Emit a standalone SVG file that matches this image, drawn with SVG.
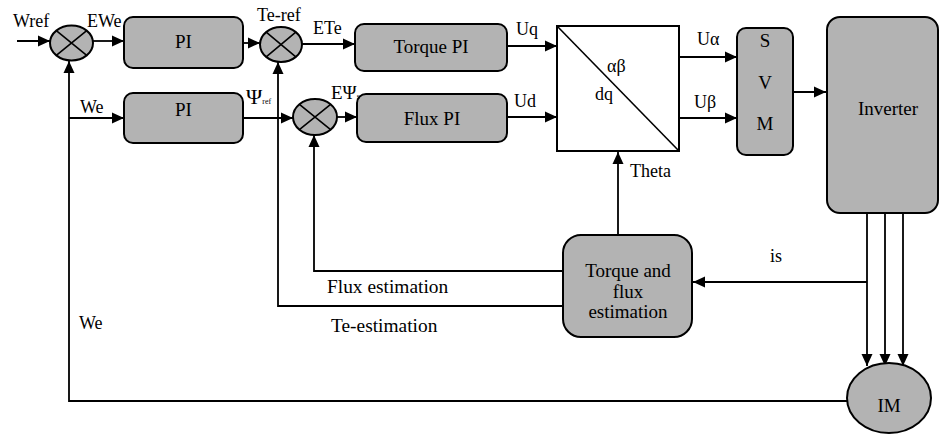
<svg xmlns="http://www.w3.org/2000/svg" width="939" height="434" viewBox="0 0 939 434" font-family="'Liberation Serif', 'DejaVu Serif', serif">
<style>
.box{fill:#b3b3b3;stroke:#000;stroke-width:2}
.wbox{fill:#fff;stroke:#000;stroke-width:2}
.sum{fill:#b3b3b3;stroke:#000;stroke-width:2}
.x{stroke:#000;stroke-width:1.6;fill:none}
.ca{fill:none;stroke:#000;stroke-width:1.8;marker-end:url(#ah)}
text{font-family:'Liberation Serif','DejaVu Serif',serif;font-size:18px;fill:#000}
.bt{font-size:19px;text-anchor:middle}
.big{font-size:19.4px}
.sub{font-size:8px}
</style>
<defs>
<marker id="ah" markerUnits="userSpaceOnUse" markerWidth="14" markerHeight="14" viewBox="0 0 14 14" refX="13" refY="7" orient="auto">
<path d="M1,1.5 L13,7 L1,12.5 Z" fill="#000"/>
</marker>
</defs>

<g id="connectors">
<path class="ca" d="M17,41 H50"/>
<path class="ca" d="M93,41 H124"/>
<path class="ca" d="M243,43 H260"/>
<path class="ca" d="M302,44 H355"/>
<path class="ca" d="M507,46 H557"/>
<path class="ca" d="M243,118 H293"/>
<path class="ca" d="M337,117 H357"/>
<path class="ca" d="M507,117 H557"/>
<path class="ca" d="M679,57 H737"/>
<path class="ca" d="M679,118 H737"/>
<path class="ca" d="M793,92 H826"/>
<path class="ca" d="M867,213 V366"/>
<path class="ca" d="M885,213 V366"/>
<path class="ca" d="M903,213 V366"/>
<path class="ca" d="M867,282 H693"/>
<path class="ca" d="M618,235 V152"/>
<path class="ca" d="M563,271 H314 V135"/>
<path class="ca" d="M563,306 H278 V62"/>
<path class="ca" d="M847,401 H69 V61"/>
<path class="ca" d="M69,118 H124"/>
</g>

<g id="sum1">
<ellipse class="sum" cx="71.5" cy="43" rx="21.5" ry="17.5"/>
<path class="x" d="M56.3,30.6 L86.7,55.4 M86.7,30.6 L56.3,55.4"/>
</g>
<g id="sum2">
<ellipse class="sum" cx="281" cy="44.5" rx="21" ry="17.5"/>
<path class="x" d="M266.2,32.1 L295.8,56.9 M295.8,32.1 L266.2,56.9"/>
</g>
<g id="sum3">
<ellipse class="sum" cx="315" cy="117" rx="22" ry="18"/>
<path class="x" d="M299.4,104.3 L330.6,129.7 M330.6,104.3 L299.4,129.7"/>
</g>

<g id="pi1">
<rect class="box" x="124" y="17" width="119" height="51" rx="9"/>
<text class="bt" x="183.5" y="48">PI</text>
</g>
<g id="pi2">
<rect class="box" x="124" y="93" width="119" height="50" rx="9"/>
<text class="bt" x="183.5" y="116">PI</text>
</g>
<g id="torquepi">
<rect class="box" x="355" y="24" width="152" height="47" rx="9"/>
<text class="bt" x="431" y="53">Torque PI</text>
</g>
<g id="fluxpi">
<rect class="box" x="357" y="94" width="150" height="48" rx="9"/>
<text class="bt" x="432" y="125">Flux PI</text>
</g>
<g id="dq">
<rect class="wbox" x="557" y="26" width="122" height="125"/>
<path class="x" d="M557,26 L679,151"/>
<text x="607" y="72">αβ</text>
<text x="595" y="100">dq</text>
</g>
<g id="svm">
<rect class="box" x="737" y="28" width="56" height="127" rx="9"/>
<text class="bt" x="765" y="47">S</text>
<text class="bt" x="765" y="89">V</text>
<text class="bt" x="765" y="130">M</text>
</g>
<g id="inverter">
<rect class="box" x="827" y="17" width="111" height="196" rx="13"/>
<text class="bt" x="888" y="115">Inverter</text>
</g>
<g id="estimation">
<rect class="box" x="563" y="235" width="129" height="102" rx="18"/>
<text class="bt" x="628" y="277">Torque and</text>
<text class="bt" x="628" y="298">flux</text>
<text class="bt" x="628" y="318">estimation</text>
</g>
<g id="im">
<ellipse class="sum" cx="889" cy="398" rx="42" ry="35"/>
<text class="bt" x="889" y="412">IM</text>
</g>

<g id="labels">
<text x="13" y="27">Wref</text>
<text x="87" y="27">EWe</text>
<text x="257" y="21">Te-ref</text>
<text x="313" y="34">ETe</text>
<text x="516" y="35">Uq</text>
<text x="80" y="113">We</text>
<text x="246" y="104" style="font-size:22px">Ψ<tspan class="sub">ref</tspan></text>
<text x="331" y="99" style="font-size:19px">EΨ<tspan class="sub">s</tspan></text>
<text x="514" y="107">Ud</text>
<text x="697" y="45">Uα</text>
<text x="694" y="108">Uβ</text>
<text x="630" y="177">Theta</text>
<text x="770" y="262">is</text>
<text class="big" x="327" y="293">Flux estimation</text>
<text class="big" x="331" y="332">Te-estimation</text>
<text x="79" y="329">We</text>
</g>
</svg>
